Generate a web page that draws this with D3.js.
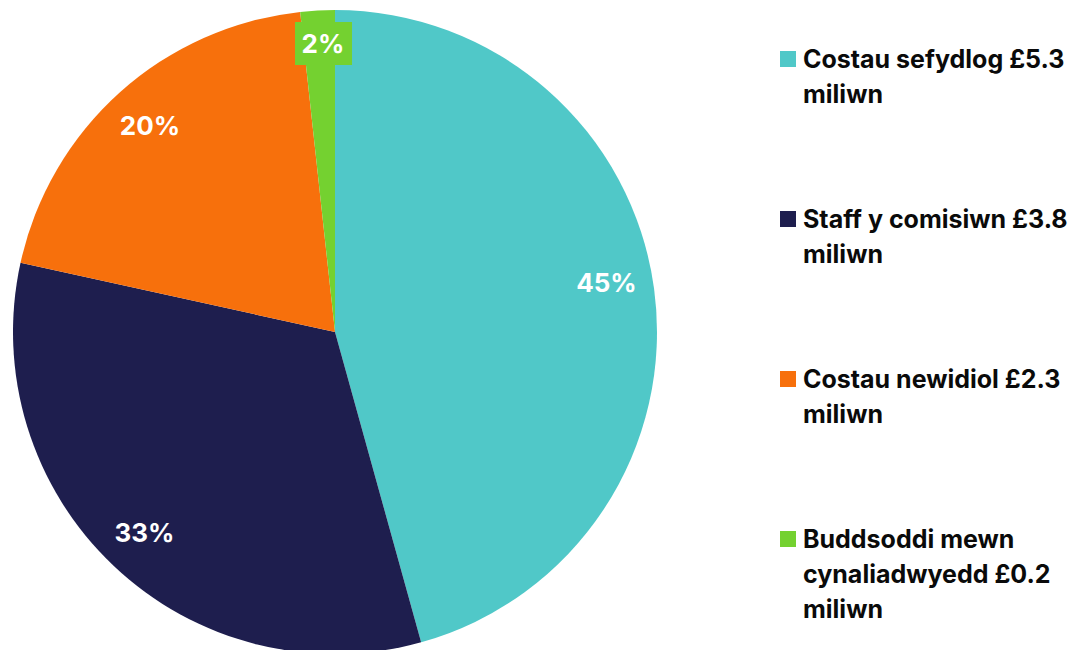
<!DOCTYPE html>
<html><head><meta charset="utf-8">
<script src="https://cdn.jsdelivr.net/npm/d3@7"></script>
<style>
html,body{margin:0;padding:0;background:#fff;}
svg{display:block;font-family:Inter, "Noto Sans", sans-serif;}
</style></head>
<body>
<svg id="chart" width="1089" height="650"></svg>
<script>
const categories = ["Costau sefydlog", "Staff y comisiwn", "Costau newidiol", "Buddsoddi mewn cynaliadwyedd"];
const values = [5.3, 3.8, 2.3, 0.2];
const percentLabels = ["45%", "33%", "20%", "2%"];
const legendLines = [
  ["Costau sefydlog £5.3", "miliwn"],
  ["Staff y comisiwn £3.8", "miliwn"],
  ["Costau newidiol £2.3", "miliwn"],
  ["Buddsoddi mewn", "cynaliadwyedd £0.2", "miliwn"]
];
const colors = ["#50C8C8", "#1E1E4E", "#F7700C", "#74D130"];

const svg = d3.select("#chart");
const cx = 335, cy = 332, R = 322;
const color = d3.scaleOrdinal().domain(categories).range(colors);

const pie = d3.pie().value(d => d.v).sort(null);
const data = categories.map((c, i) => ({c, v: values[i], lab: percentLabels[i]}));
const arcs = pie(data);
const arc = d3.arc().innerRadius(0).outerRadius(R);
const labelArc = d3.arc().innerRadius(277).outerRadius(277);

const g = svg.append("g").attr("transform", `translate(${cx},${cy})`);
g.selectAll("path").data(arcs).enter().append("path")
  .attr("d", arc).attr("fill", d => color(d.data.c));

const lg = g.selectAll("g.lab").data(arcs).enter().append("g").attr("class","lab")
  .attr("transform", (d,i) => {
    const p = labelArc.centroid(d);
    if (i === 3) return `translate(${p[0]+3},${-288})`;
    if (i === 0) return `translate(${p[0]-3},${p[1]-12})`;
    return `translate(${p[0]},${p[1]})`;
  });
lg.filter((d,i) => i === 3).append("rect")
  .attr("x", -28).attr("y", -22).attr("width", 57).attr("height", 43)
  .attr("fill", d => color(d.data.c));
lg.append("text")
  .attr("text-anchor", "middle").attr("dy", "0.36em")
  .attr("fill", "#fff").attr("font-weight", 700).attr("font-size", 26)
  .text(d => d.data.lab);

const leg = svg.append("g").attr("transform", "translate(780,0)");
const items = leg.selectAll("g").data(categories).enter().append("g")
  .attr("transform", (d,i) => `translate(0,${68 + i*160})`);
items.append("rect").attr("x", 0).attr("y", -17).attr("width", 16).attr("height", 16)
  .attr("fill", d => color(d));
items.append("text").attr("x", 23).attr("font-size", 25).attr("font-weight", 700).attr("fill", "#0a0a0a")
  .selectAll("tspan").data((d,i) => legendLines[i]).enter().append("tspan")
  .attr("x", 23).attr("y", (d,j) => j*35).text(d => d);
</script>
</body></html>
